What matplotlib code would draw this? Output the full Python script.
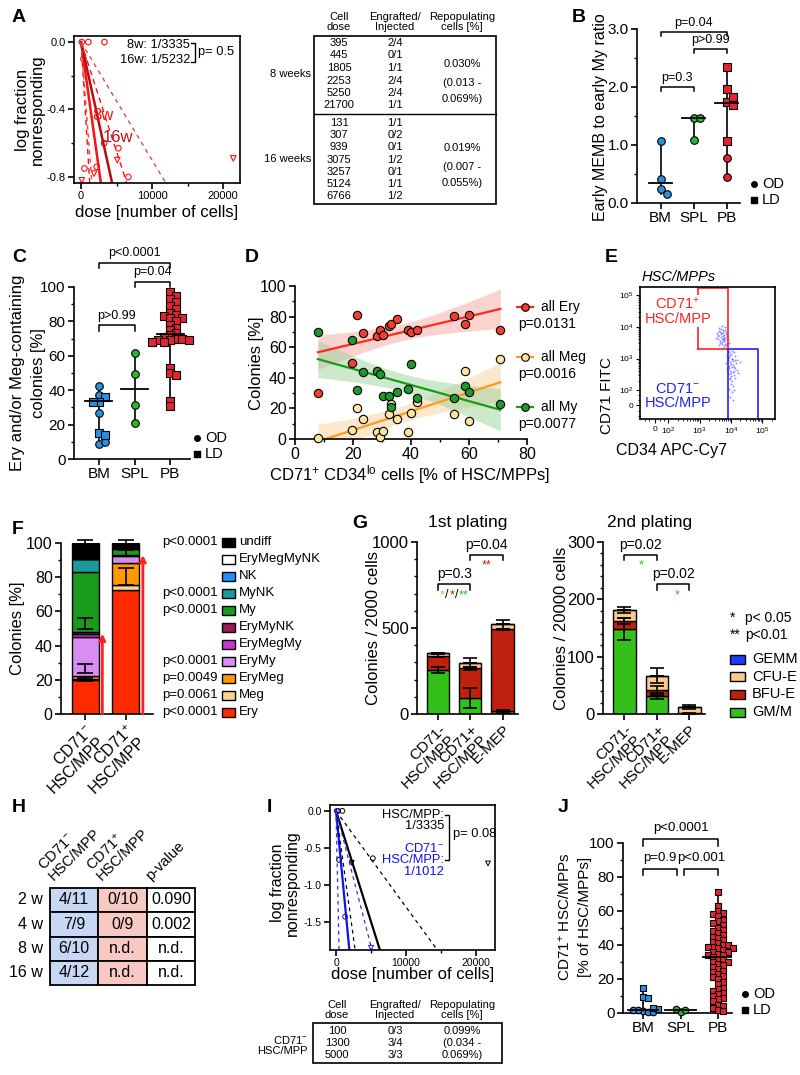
import numpy as np
import matplotlib
matplotlib.use('Agg')
import matplotlib.pyplot as plt
from matplotlib.patches import Rectangle

plt.rcParams['font.family'] = ['Liberation Sans', 'DejaVu Sans']
plt.rcParams['mathtext.fontset'] = 'custom'
plt.rcParams['mathtext.rm'] = 'Liberation Sans'
plt.rcParams['mathtext.it'] = 'Liberation Sans:italic'
plt.rcParams['mathtext.bf'] = 'Liberation Sans:bold'
plt.rcParams['axes.linewidth'] = 1.2
for k in ('xtick', 'ytick'):
    plt.rcParams[k + '.major.width'] = 1.2
    plt.rcParams[k + '.minor.width'] = 1.0
    plt.rcParams[k + '.major.size'] = 4
    plt.rcParams[k + '.minor.size'] = 2.5
    plt.rcParams[k + '.major.pad'] = 2

# ---------------- data ----------------
groups = ['BM', 'SPL', 'PB']

# A: limiting dilution, frequencies given as 1/x (estimate, CI)
a_est = [3335, 5232]
a_ci = [[1449, 7692], [1818, 14286]]
a_circ_x = [100, 1030, 3290, 330, 470, 2200, 6660, 5250, 3250]
a_circ_y = [0.0, 0.0, 0.0, -0.10, -0.75, -0.74, -0.80, -0.63, -0.60]
a_tri_x = [1830, 5100, 100, 21450]
a_tri_y = [-0.78, -0.70, -0.82, -0.69]
a_dose_8w = ['395', '445', '1805', '2253', '5250', '21700']
a_eng_8w = ['2/4', '0/1', '1/1', '2/4', '2/4', '1/1']
a_dose_16w = ['131', '307', '939', '3075', '3257', '5124', '6766']
a_eng_16w = ['1/1', '0/2', '0/1', '1/2', '0/1', '1/1', '1/2']
a_rep_8w = ['0.030%', '(0.013 -', '0.069%)']
a_rep_16w = ['0.019%', '(0.007 -', '0.055%)']

# B: early MEMB / early My ratio
b_od = [[1.07, 0.42, 0.25, 0.16], [1.47, 1.47, 1.09], [0.77, 0.45]]
b_ld = [[], [], [2.35, 1.97, 1.75, 1.82, 1.69, 1.07]]
b_mid = [0.34, 1.47, 1.72]

# C: Ery and/or Meg containing colonies
c_od = [[42.6, 37.2, 27.0, 8.7, 9.6], [61.8, 49.3, 31.2, 20.8], []]
c_ld = [[35.8, 33.3, 33.3, 15.0, 13.7], [],
        [97, 95, 93, 91, 89, 87, 85, 84, 83, 82, 82, 80, 78, 76, 75, 73, 72,
         71, 70, 70, 69, 69, 69, 68, 68, 53, 50, 49, 34, 31]]
c_mid = [33.5, 40.5, 72.5]

# D: colonies vs CD71+ CD34lo fraction
d_x = [7.9, 19.7, 21.3, 23.5, 28.3, 29.2, 30.5, 32.3, 33.0, 35.0, 39.0, 40.0,
       41.9, 54.8, 58.5, 59.9, 70.8]
d_ery = [30.0, 49.6, 80.9, 69.3, 67.1, 71.5, 67.8, 73.7, 75.2, 78.7, 71.5, 70.0,
         71.5, 80.7, 75.4, 80.9, 71.0]
d_meg = [0.9, 5.9, 20.1, 12.9, 4.4, 1.1, 5.5, 16.2, 23.0, 12.9, 4.4, 17.3,
         24.5, 16.4, 44.6, 12.0, 52.3]
d_my = [70.0, 64.9, 31.7, 43.7, 44.2, 42.6, 27.8, 28.4, 20.8, 31.0, 32.8, 49.0,
        26.7, 26.7, 34.8, 31.0, 22.7]
d_names = ['all Ery', 'all Meg', 'all My']
d_pvals = ['p=0.0131', 'p=0.0016', 'p=0.0077']

# E: flow events (decade units on the display scale)
e_x = [3.62, 3.70, 3.75, 3.80, 3.66, 3.72, 3.78, 3.85, 3.60, 3.68, 3.74, 3.82,
       3.88, 3.58, 3.65, 3.72, 3.79, 3.86, 3.90, 3.70, 3.77, 3.84, 3.63, 3.88,
       3.75, 3.55, 3.81, 3.69, 3.52, 3.94, 3.67, 3.73, 3.79, 3.61, 3.76, 3.83,
       3.70, 3.64, 3.87, 3.57, 3.74, 3.80,
       3.92, 4.00, 4.08, 3.95, 4.03, 4.12, 3.90, 3.98, 4.06, 4.15, 3.94, 4.02,
       4.10, 3.88, 3.97, 4.05, 4.18, 3.93, 4.01, 4.09, 3.96, 4.04, 4.12, 3.99,
       4.07, 3.95, 4.03, 4.10, 3.98, 4.06, 3.86, 4.20, 3.84, 4.22, 4.30, 3.91,
       3.96, 4.04, 4.00, 4.11, 3.93, 4.07, 3.99, 4.14, 3.89, 4.02, 4.08, 3.97]
e_y = [3.95, 4.02, 3.90, 3.98, 3.85, 3.80, 3.75, 3.85, 3.72, 3.68, 3.62, 3.66,
       3.72, 3.60, 3.55, 3.52, 3.56, 3.50, 3.60, 3.45, 3.40, 3.42, 3.42, 3.36,
       3.33, 3.80, 3.90, 3.92, 3.66, 3.48, 3.77, 3.70, 3.64, 3.88, 3.58, 3.78,
       3.60, 3.50, 3.63, 3.75, 3.84, 3.47,
       3.20, 3.15, 3.22, 3.05, 3.00, 3.08, 2.95, 2.88, 2.92, 2.85, 2.78, 2.72,
       2.75, 2.68, 2.62, 2.58, 2.65, 2.50, 2.45, 2.48, 2.35, 2.30, 2.38, 2.20,
       2.15, 2.05, 1.95, 2.02, 1.80, 1.70, 3.10, 2.95, 2.85, 2.55, 2.90, 3.25,
       3.12, 2.98, 2.82, 2.96, 2.70, 2.80, 2.55, 2.70, 3.02, 3.25, 2.60, 2.40]

# F: colony types (bottom to top)
f_cats = ['CD71$^{-}$\nHSC/MPP', 'CD71$^{+}$\nHSC/MPP']
f_types = ['Ery', 'Meg', 'EryMeg', 'EryMy', 'EryMegMy', 'EryMyNK', 'My', 'MyNK',
           'NK', 'EryMegMyNK', 'undiff']
f_neg = [20.0, 0.5, 1.8, 22.9, 1.4, 1.2, 35.3, 7.8, 0.0, 0.0, 9.1]
f_pos = [72.4, 2.9, 13.0, 4.3, 0.4, 0.1, 3.4, 0.5, 0.0, 0.3, 2.7]
f_pvals = ['p<0.0001', 'p=0.0061', 'p=0.0049', 'p<0.0001', '', '', 'p<0.0001',
           'p<0.0001', '', '', 'p<0.0001']
f_err_y = [[20.3, 26.5, 53.0, 100.5], [80.5, 94.0, 100.5]]
f_err = [[0.8, 2.5, 3.0, 1.5], [5.0, 1.8, 1.5]]
f_arrow = [47, 93]

# G: colonies per plating
g_cats = ['CD71-\nHSC/MPP', 'CD71+\nHSC/MPP', 'E-MEP']
g_types = ['GM/M', 'BFU-E', 'CFU-E', 'GEMM']
g1 = [[257, 93, 15], [83, 173, 477], [13, 33, 29], [0, 0, 0]]
g1_err = [[19, 57, 10], [6, 10, 4], [4, 25, 25], [0, 0, 0]]
g2 = [[148, 31, 0], [14, 10, 1], [19, 26, 11], [0, 0, 0]]
g2_err = [[19, 5, 0], [5, 8, 0.5], [5, 13, 4], [0, 0, 0]]

# H: engraftment table
h_rows = ['2 w', '4 w', '8 w', '16 w']
h_cols = ['CD71$^{-}$\nHSC/MPP', 'CD71$^{+}$\nHSC/MPP', 'p-value']
h_neg = ['4/11', '7/9', '6/10', '4/12']
h_pos = ['0/10', '0/9', 'n.d.', 'n.d.']
h_p = ['0.090', '0.002', 'n.d.', 'n.d.']

# I: limiting dilution CD71- vs all
i_est = [3335, 1012]
i_ci = [[1449, 7692], [230, 2730]]
i_circ_k_x = [300, 900, 430, 5250]
i_circ_k_y = [0.0, 0.0, -0.66, -0.64]
i_tri_k_x = [2250, 21700]
i_tri_k_y = [-0.70, -0.71]
i_circ_b_x = [100, 1300]
i_circ_b_y = [0.0, -1.43]
i_tri_b_x = [5000]
i_tri_b_y = [-1.85]
i_dose = ['100', '1300', '5000']
i_eng = ['0/3', '3/4', '3/3']
i_rep = ['0.099%', '(0.034 -', '0.069%)']

# J: CD71+ fraction of HSC/MPPs
j_od = [[1.2, 0.8, 1.5, 0.6, 2.0], [0.5, 1.6, 2.4], []]
j_ld = [[14.5, 9.4, 8.8, 2.6, 3.0], [],
        [71, 63, 60, 59, 58, 57, 55, 54, 53, 52, 50, 49, 48, 47, 46, 45, 44, 43,
         42, 41, 40, 40, 39, 39, 38, 38, 37, 36, 36, 35, 34, 34, 33, 32, 31, 30,
         30, 29, 28, 27, 26, 25, 24, 23, 22, 21, 20, 18, 17, 15, 14, 13, 12, 11,
         10, 9, 8, 7, 5, 4, 3, 2, 1]]
j_mid = [2.0, 1.5, 33.0]

# ---------------- figure ----------------
W, H = 800, 1075
RED = '#e8232f'
BLUE = '#2b8fe0'
GREEN = '#2db52d'
grp_colors = [BLUE, GREEN, RED]

fig = plt.figure(figsize=(8, 10.75), dpi=100)

ov = fig.add_axes([0, 0, 1, 1])
ov.set_xlim(0, W)
ov.set_ylim(H, 0)
ov.axis('off')
ov.set_zorder(10)


def px_axes(l, t, r, b):
    return fig.add_axes([l / W, 1 - b / H, (r - l) / W, (b - t) / H])


def open_axes(ax):
    ax.spines['top'].set_visible(False)
    ax.spines['right'].set_visible(False)


def swarm(vals, dy, dx):
    placed, offs = [], []
    for v in vals:
        for k in range(0, 14):
            o = ((k + 1) // 2) * dx * (1 if k % 2 else -1)
            if all(abs(v - pv) >= dy or abs(o - po) >= dx * 0.95 for pv, po in placed):
                break
        placed.append((v, o))
        offs.append(o)
    return np.array(offs)


def dot_groups(ax, od, ld, mid, dy, dx, half, s):
    for i in range(3):
        vals = np.array(list(od[i]) + list(ld[i]), dtype=float)
        n = len(od[i])
        offs = swarm(vals, dy, dx)
        xc = i + 1
        ax.plot([xc, xc], [vals.min(), vals.max()], color='k', lw=1.2, zorder=2)
        ax.scatter(xc + offs[:n], vals[:n], marker='o', s=s, c=grp_colors[i],
                   edgecolors='k', linewidths=0.8, zorder=3, clip_on=False)
        ax.scatter(xc + offs[n:], vals[n:], marker='s', s=s * 0.9, c=grp_colors[i],
                   edgecolors='k', linewidths=0.8, zorder=3, clip_on=False)
        ax.plot([xc - half, xc + half], [mid[i]] * 2, color='k', lw=1.3, zorder=4)


def bracket(ax, x1, x2, y, h, txt, fs=9):
    ax.plot([x1, x1, x2, x2], [y - h, y, y, y - h], color='k', lw=1.1, clip_on=False)
    ax.text((x1 + x2) / 2, y + h * 0.7, txt, ha='center', va='bottom', fontsize=fs)


def od_ld_legend(x, y):
    ov.scatter([x], [y], marker='o', s=16, c='k')
    ov.text(x + 8, y, 'OD', va='center', fontsize=10.5)
    ov.scatter([x], [y + 16], marker='s', s=14, c='k')
    ov.text(x + 8, y + 16, 'LD', va='center', fontsize=10.5)


# panel letters
for s, x, y in [('A', 12, 17), ('B', 572, 17), ('C', 12, 257), ('D', 245, 257),
                ('E', 605, 257), ('F', 12, 530), ('G', 352, 523), ('H', 12, 807),
                ('I', 267, 807), ('J', 558, 808)]:
    ov.text(x, y, s, fontsize=14, fontweight='bold', va='center')

# ---- A ----
ax = px_axes(74, 36, 240, 183)
d = np.linspace(0, 23000, 400)
ax.plot(d, -d / a_est[0], color='#ff1010', lw=1.8)
ax.plot(d, -d / a_est[1], color='#b41010', lw=1.8)
for f in a_ci[0]:
    ax.plot(d, -d / f, color='#ff1010', lw=1, ls=(0, (4, 3)))
for f in a_ci[1]:
    ax.plot(d, -d / f, color='#e04848', lw=1, ls=(0, (3, 3)))
ax.scatter(a_circ_x, a_circ_y, s=16, facecolors='none', edgecolors='#ff1010', linewidths=0.8)
ax.scatter(a_tri_x, a_tri_y, marker='v', s=16, facecolors='none', edgecolors='#ff1010', linewidths=0.8)
ax.set_xlim(-1000, 22400)
ax.set_ylim(-0.836, 0.036)
ax.set_xticks([0, 10000, 20000])
ax.set_xticks([5000, 15000], minor=True)
ax.set_yticks([0, -0.4, -0.8])
ax.set_yticklabels(['0.0', '-0.4', '-0.8'])
ax.set_yticks([-0.2, -0.6], minor=True)
ax.tick_params(labelsize=8)
ov.text(30, 110, 'log fraction\nnonresponding', rotation=90, ha='center', va='center',
        fontsize=12, linespacing=1.0)
ov.text(157, 212, 'dose [number of cells]', ha='center', va='center', fontsize=12)
ov.text(190, 45, '8w: 1/3335', ha='right', va='center', fontsize=9.3)
ov.text(190, 60, '16w: 1/5232', ha='right', va='center', fontsize=9.3)
ov.plot([191, 195, 195, 191], [43, 43, 62, 62], color='k', lw=1)
ov.text(198, 52, 'p= 0.5', ha='left', va='center', fontsize=9.3)
ov.text(92, 115, '8w', color='#ff1010', fontsize=12, va='center')
ov.text(103, 137, '16w', color='#c01010', fontsize=12, va='center')

# table A
for s, x in [('Cell\ndose', 339), ('Engrafted/\nInjected', 395), ('Repopulating\ncells [%]', 462)]:
    ov.text(x, 22, s, ha='center', va='center', fontsize=8, linespacing=1.1)
ov.add_patch(Rectangle((314, 36), 182, 168, fill=False, lw=1.2, ec='k'))
ov.plot([314, 496], [114, 114], color='k', lw=1)
for i, (dd, ee) in enumerate(zip(a_dose_8w, a_eng_8w)):
    ov.text(339, 43 + 12.5 * i, dd, ha='center', va='center', fontsize=8)
    ov.text(395, 43 + 12.5 * i, ee, ha='center', va='center', fontsize=8)
for i, (dd, ee) in enumerate(zip(a_dose_16w, a_eng_16w)):
    ov.text(339, 123 + 12.2 * i, dd, ha='center', va='center', fontsize=8)
    ov.text(395, 123 + 12.2 * i, ee, ha='center', va='center', fontsize=8)
for s, y in zip(a_rep_8w, [64, 83, 99]):
    ov.text(462, y, s, ha='center', va='center', fontsize=8)
for s, y in zip(a_rep_16w, [148, 167, 183]):
    ov.text(462, y, s, ha='center', va='center', fontsize=8)
ov.text(311, 74, '8 weeks', ha='right', va='center', fontsize=8)
ov.text(311, 159, '16 weeks', ha='right', va='center', fontsize=8)

# ---- B ----
ax = px_axes(637, 29, 740, 203)
open_axes(ax)
dot_groups(ax, b_od, b_ld, b_mid, dy=0.11, dx=0.2, half=0.35, s=30)
ax.set_xlim(0.29, 3.4)
ax.set_ylim(0, 3)
ax.set_xticks([1, 2, 3])
ax.set_xticklabels(groups)
ax.set_yticks([0, 1, 2, 3])
ax.set_yticklabels(['0.0', '1.0', '2.0', '3.0'])
ax.set_yticks([0.5, 1.5, 2.5], minor=True)
ax.tick_params(labelsize=11)
bracket(ax, 1, 2, 2.0, 0.07, 'p=0.3')
bracket(ax, 2, 3, 2.65, 0.07, 'p>0.99')
bracket(ax, 1, 3, 2.95, 0.07, 'p=0.04')
ov.text(600, 117, 'Early MEMB to early My ratio', rotation=90, ha='center', va='center', fontsize=11.5)
od_ld_legend(754, 184)

# ---- C ----
ax = px_axes(74, 287, 190, 459)
open_axes(ax)
dot_groups(ax, c_od, c_ld, c_mid, dy=2.6, dx=0.17, half=0.38, s=30)
ax.set_xlim(0.31, 3.55)
ax.set_ylim(0, 100)
ax.set_xticks([1, 2, 3])
ax.set_xticklabels(groups)
ax.set_yticks(np.arange(0, 101, 20))
ax.set_yticks(np.arange(10, 100, 20), minor=True)
ax.tick_params(labelsize=11)
bracket(ax, 1, 2, 77.7, 3, 'p>0.99')
bracket(ax, 2, 3, 103, 3, 'p=0.04')
bracket(ax, 1, 3, 114, 3, 'p<0.0001')
ov.text(18, 373, 'Ery and/or Meg-containing', rotation=90, ha='center', va='center', fontsize=12)
ov.text(38, 373, 'colonies [%]', rotation=90, ha='center', va='center', fontsize=12)
od_ld_legend(197, 438)

# ---- D ----
ax = px_axes(295, 286, 527, 439)
open_axes(ax)
xs = np.linspace(min(d_x), max(d_x), 100)
d_series = [(d_ery, '#ff2a1a', '#f04030', '#f7a89e'),
            (d_meg, '#ff9a1a', '#fde4a0', '#fbd09a'),
            (d_my, '#1a9a1a', '#1f9a2a', '#9ad49a')]
xa = np.array(d_x)
for yv, lc, fc, bc in d_series:
    yv = np.array(yv)
    b, a = np.polyfit(xa, yv, 1)
    n = len(xa)
    s_res = np.sqrt(np.sum((yv - (a + b * xa)) ** 2) / (n - 2))
    se = s_res * np.sqrt(1 / n + (xs - xa.mean()) ** 2 / np.sum((xa - xa.mean()) ** 2))
    yh = a + b * xs
    ax.fill_between(xs, yh - 2.13 * se, yh + 2.13 * se, color=bc, alpha=0.5, lw=0)
    ax.plot(xs, yh, color=lc, lw=1.6)
for yv, lc, fc, bc in d_series:
    ax.scatter(d_x, yv, s=36, c=fc, edgecolors='k', linewidths=0.8, zorder=3, clip_on=False)
ax.set_xlim(0, 80)
ax.set_ylim(0, 100)
ax.set_xticks(np.arange(0, 81, 20))
ax.set_xticks(np.arange(10, 80, 20), minor=True)
ax.set_yticks(np.arange(0, 101, 20))
ax.set_yticks(np.arange(10, 100, 20), minor=True)
ax.tick_params(labelsize=11.5)
ov.text(256, 363, 'Colonies [%]', rotation=90, ha='center', va='center', fontsize=12)
ov.text(410, 475, 'CD71$^{+}$ CD34$^{\\mathrm{lo}}$ cells [% of HSC/MPPs]', ha='center', va='center', fontsize=12)
for (yv, lc, fc, bc), name, p, y in zip(d_series, d_names, d_pvals, [307, 357, 407]):
    ov.plot([517, 533], [y, y], color=lc, lw=1.6)
    ov.scatter([525], [y], s=30, c=fc, edgecolors='k', linewidths=0.8, zorder=3)
    ov.text(541, y, name, va='center', fontsize=10)
    ov.text(518, y + 17, p, va='center', fontsize=10)

# ---- E ----
ax = px_axes(640, 287, 775, 419)
ax.scatter(e_x, e_y, s=2, c='#4a4aff', alpha=0.6, linewidths=0)
ax.plot([2.95, 2.95, 3.9, 3.9, 2.95], [3.3, 5.22, 5.22, 3.3, 3.3], color='#ff2020', lw=1.2)
ax.plot([3.9, 3.9, 4.86, 4.86], [1.0, 3.3, 3.3, 1.0], color='#2020ff', lw=1.2)
ax.text(2.31, 4.5, 'CD71$^{+}$\nHSC/MPP', color='#ff2020', ha='center', va='center',
        fontsize=10.5, linespacing=1.0, bbox=dict(fc='white', ec='none', pad=0.5))
ax.text(2.31, 1.82, 'CD71$^{-}$\nHSC/MPP', color='#2020ff', ha='center', va='center',
        fontsize=10.5, linespacing=1.0)
ax.set_xlim(1.1, 5.4)
ax.set_ylim(1.1, 5.25)
dec_labels = ['0', '$10^2$', '$10^3$', '$10^4$', '$10^5$']
ax.set_xticks([1.58, 2, 3, 4, 5])
ax.set_xticklabels(dec_labels)
ax.set_yticks([1.53, 2, 3, 4, 5])
ax.set_yticklabels(dec_labels)
minor = [dd + np.log10(m) for dd in (2, 3, 4) for m in range(2, 10)] + [5.3]
ax.set_xticks([1.25, 1.4, 1.75, 1.87] + minor, minor=True)
ax.set_yticks([1.2, 1.35, 1.7, 1.85] + [m for m in minor if m < 5.25], minor=True)
ax.tick_params(labelsize=6, length=3, width=0.8)
ax.tick_params(which='minor', length=1.5, width=0.6)
ov.text(642, 277, 'HSC/MPPs', style='italic', ha='left', va='center', fontsize=10.5)
ov.text(607, 395, 'CD71 FITC', rotation=90, ha='center', va='center', fontsize=11)
ov.text(672, 450, 'CD34 APC-Cy7', ha='center', va='center', fontsize=11.5)

# ---- F ----
f_colors = ['#ff2a00', '#fdd58a', '#ff9900', '#d88ef0', '#cc33cc', '#9a1a5a',
            '#1a9a1a', '#1a9a9a', '#1e90ff', 'white', 'black']
ax = px_axes(61, 543, 153, 714)
open_axes(ax)
bottom = np.zeros(2)
for i, t in enumerate(f_types):
    v = np.array([f_neg[i], f_pos[i]])
    ax.bar([0, 1], v, bottom=bottom, width=0.66, color=f_colors[i], edgecolor='k', lw=1.0, zorder=2)
    bottom += v
for j in range(2):
    ax.errorbar(np.full(len(f_err_y[j]), j), f_err_y[j], yerr=f_err[j], fmt='none',
                ecolor='k', elinewidth=1.2, capsize=6, capthick=1.2, zorder=3, clip_on=False)
    ax.annotate('', xy=(j + 0.42, f_arrow[j]), xytext=(j + 0.42, 0),
                arrowprops=dict(arrowstyle='-|>', color='#ff2020', lw=2, mutation_scale=9,
                                shrinkA=0, shrinkB=0))
ax.set_xlim(-0.6, 1.67)
ax.set_ylim(0, 100)
ax.set_xticks([0, 1])
ax.set_xticklabels(f_cats, rotation=45, ha='right', rotation_mode='anchor', linespacing=1.0)
ax.set_yticks(np.arange(0, 101, 20))
ax.set_yticks(np.arange(10, 100, 20), minor=True)
ax.tick_params(labelsize=11.5)
ov.text(18, 628, 'Colonies [%]', rotation=90, ha='center', va='center', fontsize=12)
for k, i in enumerate(range(len(f_types) - 1, -1, -1)):
    y = 542 + 17.0 * k
    ov.add_patch(Rectangle((222, y - 4.5), 13, 9, fc=f_colors[i], ec='k', lw=1))
    ov.text(239, y, f_types[i], va='center', fontsize=9.5)
    ov.text(218, y, f_pvals[i], va='center', ha='right', fontsize=9.5)

# ---- G ----
g_colors = ['#33c01a', '#c0200e', '#fdc98a', '#1a3cff']
for vals, errs, box, ymax, yt, ymin_step, lab, xl in [
        (g1, g1_err, (417, 542, 518, 714), 1000, [0, 500, 1000], 100, 'Colonies / 2000 cells', 374),
        (g2, g2_err, (603, 542, 705, 714), 300, [0, 100, 200, 300], 20, 'Colonies / 20000 cells', 562)]:
    ax = px_axes(*box)
    open_axes(ax)
    bottom = np.zeros(3)
    for i in range(4):
        v = np.array(vals[i], dtype=float)
        ax.bar([0, 1, 2], v, bottom=bottom, width=0.69, color=g_colors[i], edgecolor='k', lw=1.0, zorder=2)
        top = bottom + v
        ax.errorbar([0, 1, 2], top, yerr=errs[i], fmt='none', ecolor='k', elinewidth=1.2,
                    capsize=5, capthick=1.2, zorder=3)
        bottom = top
    ax.set_xlim(-0.66, 2.48)
    ax.set_ylim(0, ymax)
    ax.set_xticks([0, 1, 2])
    ax.set_xticklabels(g_cats, rotation=45, ha='right', rotation_mode='anchor', linespacing=0.95)
    ax.set_yticks(yt)
    ax.set_yticks(np.arange(0, ymax, ymin_step), minor=True)
    ax.tick_params(labelsize=12)
    ax.tick_params(axis='x', labelsize=11)
    ov.text(xl, 628, lab, rotation=90, ha='center', va='center', fontsize=12)
    if ymax == 1000:
        bracket(ax, 0, 1, 753, 30, 'p=0.3', fs=10)
        bracket(ax, 1, 2, 923, 30, 'p=0.04', fs=10)
    else:
        bracket(ax, 0, 1, 277, 9, 'p=0.02', fs=10)
        bracket(ax, 1, 2, 226, 9, 'p=0.02', fs=10)
ov.text(468, 523, '1st plating', ha='center', va='center', fontsize=12.5)
ov.text(650, 523, '2nd plating', ha='center', va='center', fontsize=12.5)
for s, c, x in [('*', '#ffa040', 442), ('/', 'k', 447), ('*', '#d02010', 452),
                ('/', 'k', 457), ('**', '#33c01a', 464)]:
    ov.text(x, 595, s, color=c, ha='center', va='center', fontsize=9)
ov.text(487, 565, '**', color='#d02010', ha='center', va='center', fontsize=9)
ov.text(641, 565, '*', color='#33c01a', ha='center', va='center', fontsize=9)
ov.text(677, 595, '*', color='#33c01a', ha='center', va='center', fontsize=9)
ov.text(730, 618, '*', va='center', fontsize=10)
ov.text(745, 618, 'p< 0.05', va='center', fontsize=10)
ov.text(730, 635, '**', va='center', fontsize=10)
ov.text(745, 635, 'p<0.01', va='center', fontsize=10)
for k, i in enumerate([3, 2, 1, 0]):
    y = 659 + 17.7 * k
    ov.add_patch(Rectangle((730, y - 4.5), 15, 9, fc=g_colors[i], ec='k', lw=1))
    ov.text(752, y, g_types[i], va='center', fontsize=10.5)

# ---- H ----
h_x = [50, 98, 147, 195]
h_fill = ['#c8d8f4', '#f7c9c3', 'white']
for r, row in enumerate(zip(h_neg, h_pos, h_p)):
    y0 = 888 + 24.25 * r
    ov.text(43, y0 + 12, h_rows[r], ha='right', va='center', fontsize=11.5)
    for c in range(3):
        ov.add_patch(Rectangle((h_x[c], y0), h_x[c + 1] - h_x[c], 24.25, fc=h_fill[c], ec='k', lw=1.3))
        ov.text((h_x[c] + h_x[c + 1]) / 2, y0 + 12, row[c], ha='center', va='center', fontsize=11.5)
for c, s in enumerate(h_cols):
    ov.text(h_x[c] + 6, 883, s, rotation=45, ha='left', va='bottom', rotation_mode='anchor',
            fontsize=10.5, linespacing=1.0)

# ---- I ----
ax = px_axes(330, 805, 495, 950)
d = np.linspace(0, 23000, 400)
ax.plot(d, -d / i_est[0], color='k', lw=1.6)
ax.plot(d, -d / i_est[1], color='#1010f0', lw=1.6)
for f in i_ci[0]:
    ax.plot(d, -d / f, color='k', lw=0.9, ls=(0, (3, 3)))
for f in i_ci[1]:
    ax.plot(d, -d / f, color='#3030f0', lw=0.9, ls=(0, (3, 3)))
ax.scatter(i_circ_k_x, i_circ_k_y, s=12, facecolors='none', edgecolors='k', linewidths=0.7)
ax.scatter(i_tri_k_x, i_tri_k_y, marker='v', s=12, facecolors='none', edgecolors='k', linewidths=0.7)
ax.scatter(i_circ_b_x, i_circ_b_y, s=12, facecolors='none', edgecolors='#1010f0', linewidths=0.7)
ax.scatter(i_tri_b_x, i_tri_b_y, marker='v', s=12, facecolors='none', edgecolors='#1010f0', linewidths=0.7)
ax.set_xlim(-860, 22700)
ax.set_ylim(-1.88, 0.08)
ax.set_xticks([0, 10000, 20000])
ax.set_xticks([5000, 15000], minor=True)
ax.set_yticks([0, -0.5, -1.0, -1.5])
ax.set_yticklabels(['0.0', '-0.5', '-1.0', '-1.5'])
ax.tick_params(labelsize=7.5)
ov.text(285, 883, 'log fraction\nnonresponding', rotation=90, ha='center', va='center',
        fontsize=11.5, linespacing=1.0)
ov.text(413, 975, 'dose [number of cells]', ha='center', va='center', fontsize=12)
ov.text(444, 815, 'HSC/MPP:', ha='right', va='center', fontsize=9.3)
ov.text(444, 826, '1/3335', ha='right', va='center', fontsize=9.3)
ov.text(444, 848, 'CD71$^{-}$', ha='right', va='center', fontsize=9.3, color='#1010f0')
ov.text(444, 860, 'HSC/MPP:', ha='right', va='center', fontsize=9.3, color='#1010f0')
ov.text(444, 872, '1/1012', ha='right', va='center', fontsize=9.3, color='#1010f0')
ov.plot([445, 449, 449, 445], [815, 815, 860, 860], color='k', lw=1)
ov.text(453, 834, 'p= 0.08', ha='left', va='center', fontsize=9.3)
for s, x in [('Cell\ndose', 337), ('Engrafted/\nInjected', 395), ('Repopulating\ncells [%]', 462)]:
    ov.text(x, 1010, s, ha='center', va='center', fontsize=8, linespacing=1.1)
ov.add_patch(Rectangle((313, 1023), 189, 40, fill=False, lw=1.2, ec='k'))
for k in range(3):
    y = 1031 + 12 * k
    ov.text(337, y, i_dose[k], ha='center', va='center', fontsize=8)
    ov.text(395, y, i_eng[k], ha='center', va='center', fontsize=8)
    ov.text(462, y, i_rep[k], ha='center', va='center', fontsize=8)
ov.text(308, 1045, 'CD71$^{-}$\nHSC/MPP', ha='right', va='center', fontsize=8, linespacing=1.1)

# ---- J ----
ax = px_axes(623, 843, 732, 1013)
open_axes(ax)
dot_groups(ax, j_od, j_ld, j_mid, dy=2.4, dx=0.13, half=0.4, s=22)
ax.set_xlim(0.47, 3.37)
ax.set_ylim(0, 100)
ax.set_xticks([1, 2, 3])
ax.set_xticklabels(groups)
ax.set_yticks(np.arange(0, 101, 20))
ax.set_yticks(np.arange(10, 100, 20), minor=True)
ax.tick_params(labelsize=11)
bracket(ax, 1, 3, 102.5, 4, 'p<0.0001', fs=9.5)
bracket(ax, 1, 1.9, 85, 4, 'p=0.9', fs=9.5)
bracket(ax, 2.1, 3, 85, 4, 'p<0.001', fs=9.5)
ov.text(565, 917, 'CD71$^{+}$ HSC/MPPs', rotation=90, ha='center', va='center', fontsize=11)
ov.text(585, 917, '[% of HSC/MPPs]', rotation=90, ha='center', va='center', fontsize=11)
od_ld_legend(745, 994)

fig.savefig('out.png', dpi=100)
